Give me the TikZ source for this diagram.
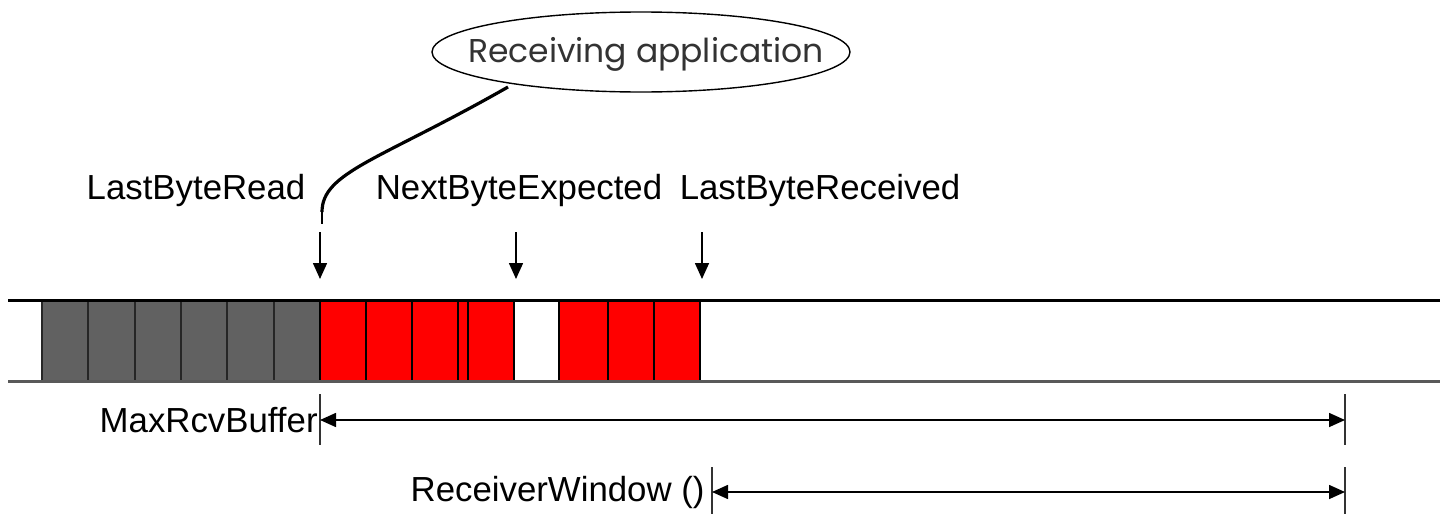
\documentclass[tikz,border=0pt]{standalone}
\usepackage{fontspec}
\setmainfont{Liberation Sans}
\newfontfamily\appfont{Poppins}
\usetikzlibrary{arrows.meta,shapes.geometric}

\tikzset{
  lbl/.style={font=\fontsize{17.4}{20}\selectfont, inner sep=0pt},
  pointer/.style={line width=0.8pt, -{Triangle[length=8pt,width=7pt]}},
  span/.style={line width=0.8pt, {Triangle[length=8pt,width=7pt]}-{Triangle[length=8pt,width=7pt]}},
  tick/.style={line width=0.9pt, black!80},
  usedcell/.style={fill=black!62, draw=black!85, line width=0.8pt},
  datacell/.style={fill=red, draw=black, line width=1pt},
  rail/.style={line width=1.5pt},
}

\begin{document}
\begin{tikzpicture}[x=0.5pt, y=-0.5pt]
  \useasboundingbox (0,0) rectangle (1440,514);

  % already consumed bytes
  \foreach \a/\b in {42/88, 88/135, 135/181, 181/227, 227/274, 274/320}
    \draw[usedcell] (\a,300) rectangle (\b,381);

  % received bytes, with one gap
  \foreach \a/\b in {320/366, 366/412, 412/458, 458/468, 468/514, 559/608, 608/654, 654/700}
    \draw[datacell] (\a,300) rectangle (\b,381);
  \draw[line width=1pt] (700,300) -- (700,381);

  % buffer rails
  \draw[rail, black] (8,300) -- (1440,300);
  \draw[rail, black!65] (8,381) -- (1440,381);

  % application
  \node[ellipse, draw, line width=0.7pt, minimum width=209pt, minimum height=40pt,
        inner sep=0pt] (app) at (641,52) {};
  \node[font=\appfont\fontsize{16.5}{19}\selectfont, text=black!80] (apptext) at (646,54)
    {Receiving application};

  % pointer labels
  \node[lbl] (lbr) at (196,191) {LastByteRead};
  \node[lbl] (nbe) at (519,191) {NextByteExpected};
  \node[lbl] (lbrc) at (820,191) {LastByteReceived};

  \coordinate (appfoot) at (508,87);
  \coordinate (readtop) at (322,212);
  \coordinate (readstub) at (322,224);
  \draw[line width=1.6pt] (appfoot) .. controls (380,160) and (322,172) .. (readtop);
  \draw[line width=0.6pt] (readtop) -- (readstub);

  \coordinate (p1s) at (320,232);
  \coordinate (p1e) at (320,279);
  \coordinate (p2s) at (516,232);
  \coordinate (p2e) at (516,279);
  \coordinate (p3s) at (702,232);
  \coordinate (p3e) at (702,279);
  \draw[pointer] (p1s) -- (p1e);
  \draw[pointer] (p2s) -- (p2e);
  \draw[pointer] (p3s) -- (p3e);

  % buffer size
  \coordinate (m1t) at (320,394);
  \coordinate (m1b) at (320,445);
  \coordinate (m2t) at (1345,394);
  \coordinate (m2b) at (1345,445);
  \draw[tick] (m1t) -- (m1b);
  \draw[tick] (m2t) -- (m2b);
  \draw[span] (320,420) -- (1345,420);
  \node[lbl, anchor=east] (maxbuf) at (318,420) {MaxRcvBuffer};

  % advertised window
  \coordinate (w1t) at (712,467);
  \coordinate (w1b) at (712,514);
  \coordinate (w2t) at (1345,467);
  \coordinate (w2b) at (1345,514);
  \draw[tick] (w1t) -- (w1b);
  \draw[tick] (w2t) -- (w2b);
  \draw[span] (712,492) -- (1345,492);
  \node[lbl, anchor=east] (rwnd) at (705,492) {ReceiverWindow ()};
\end{tikzpicture}
\end{document}
